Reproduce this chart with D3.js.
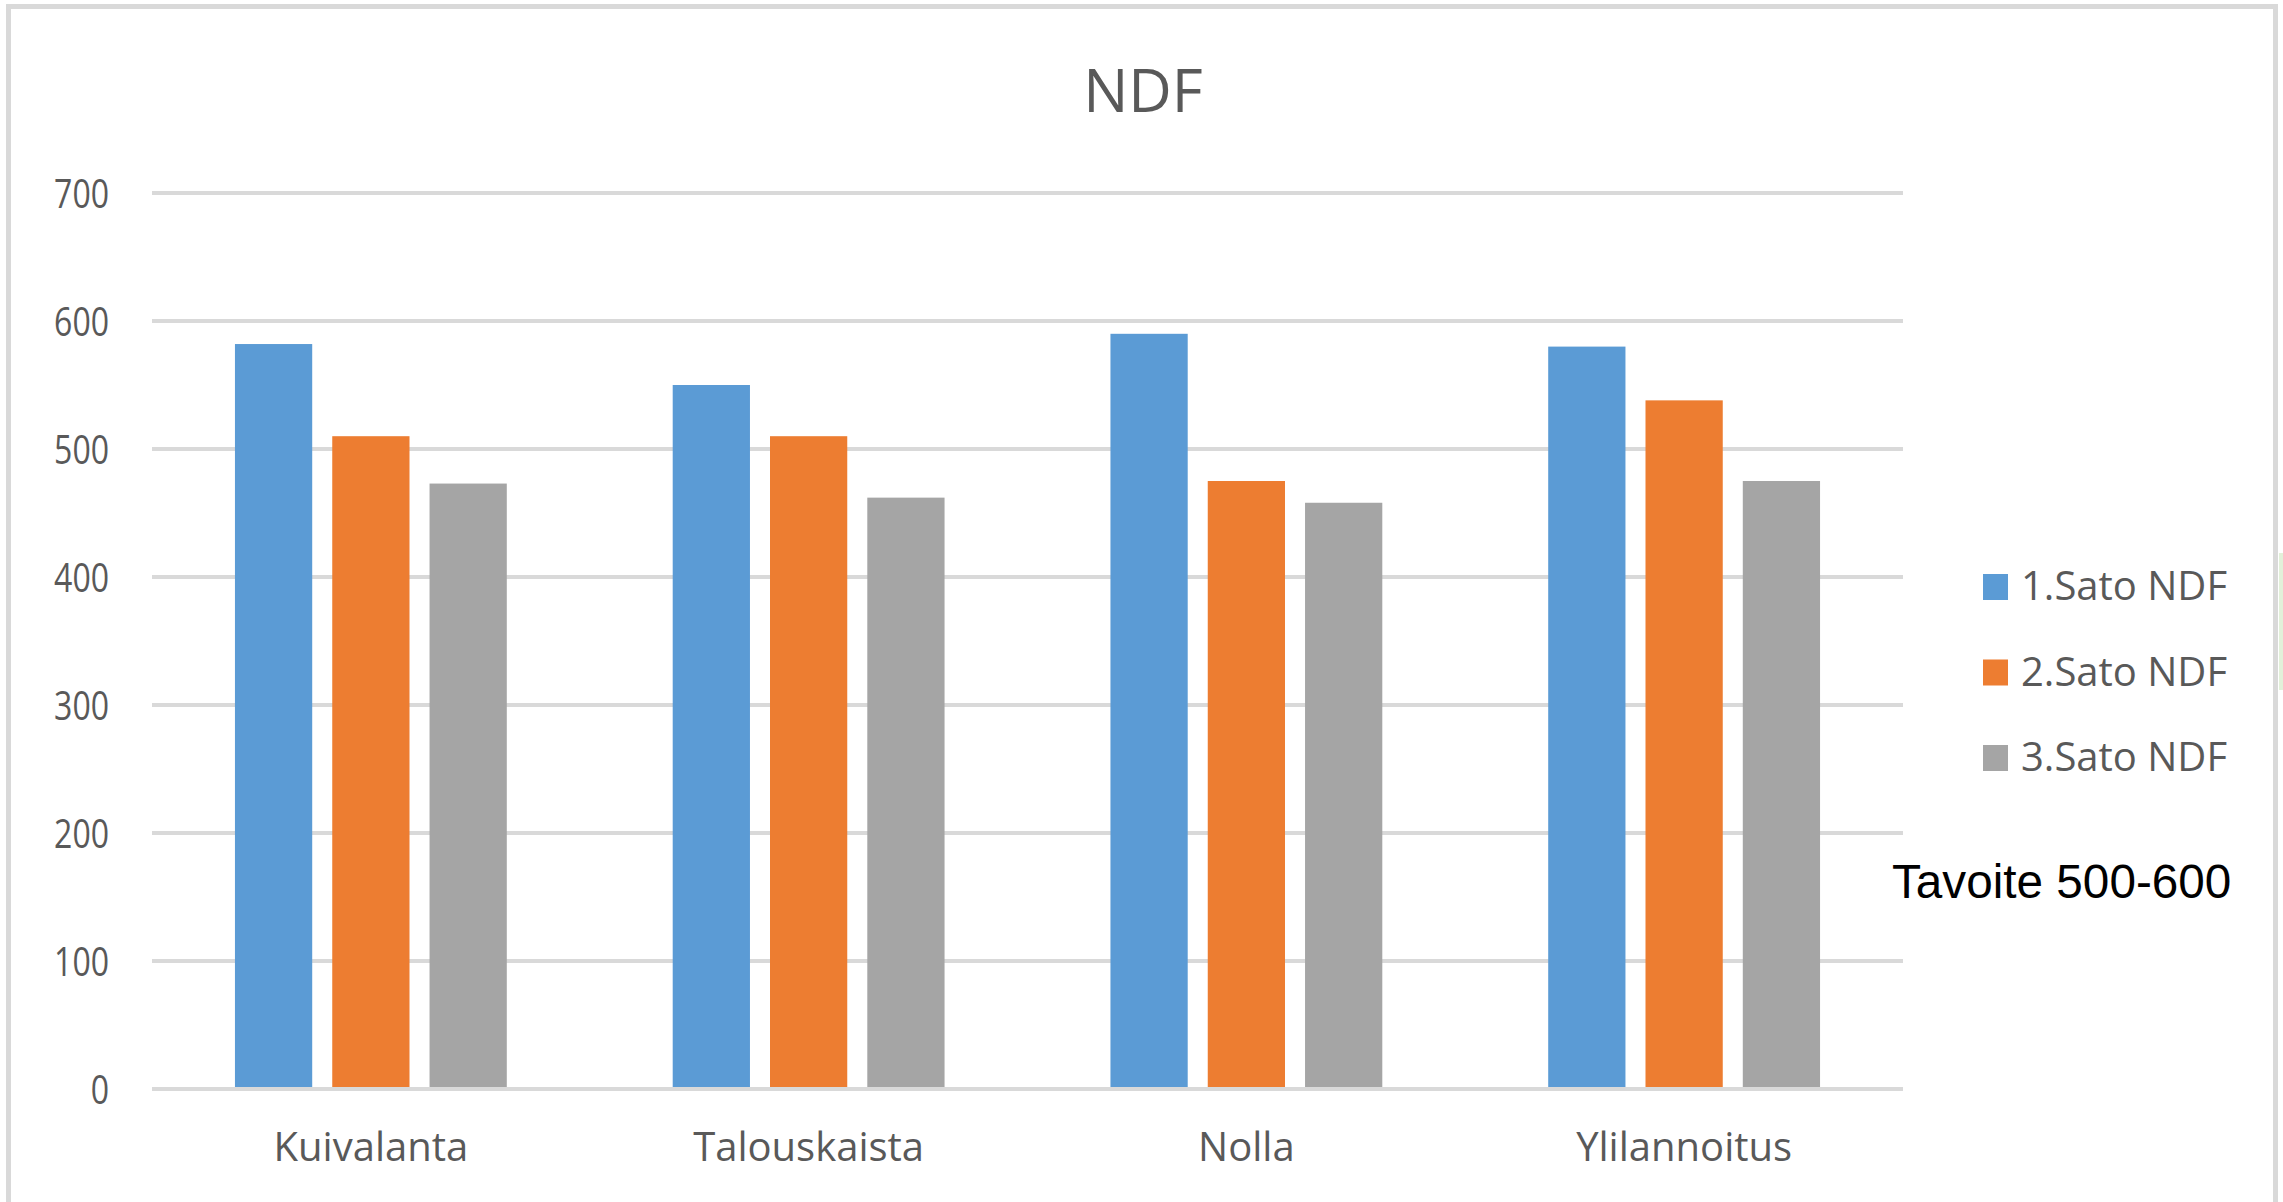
<!DOCTYPE html>
<html>
<head>
<meta charset="utf-8">
<script src="https://cdn.jsdelivr.net/npm/d3@7"></script>
<style>
  html, body { margin: 0; padding: 0; background: #ffffff; }
  svg { display: block; }
</style>
</head>
<body>
<svg id="chart" width="2283" height="1202"></svg>
<script>
const categories = ["Kuivalanta", "Talouskaista", "Nolla", "Ylilannoitus"];
const seriesNames = ["1.Sato NDF", "2.Sato NDF", "3.Sato NDF"];
const sato1 = [582, 550, 590, 580];
const sato2 = [510, 510, 475, 538];
const sato3 = [473, 462, 458, 475];
const yTicks = [0, 100, 200, 300, 400, 500, 600, 700];
const seriesColors = ["#5b9bd5", "#ed7d31", "#a5a5a5"];
const titleText = "NDF";
const noteText = "Tavoite 500-600";

const seriesValues = [sato1, sato2, sato3];
const W = 2283, H = 1202;
const svg = d3.select("#chart");
const font = "'Open Sans', 'Noto Sans', sans-serif";
const textColor = "#595959";

// frame
svg.append("path")
  .attr("d", `M8.5,1210 L8.5,6.5 L2275.5,6.5 L2275.5,1210`)
  .attr("fill", "none").attr("stroke", "#d9d9d9").attr("stroke-width", 5);
svg.append("rect").attr("x", 2279).attr("y", 553).attr("width", 4).attr("height", 137)
  .attr("fill", "#e2f0d9");

const plot = { left: 152, right: 1903, top: 193, bottom: 1089 };

const y = d3.scaleLinear().domain([0, 700]).range([plot.bottom, plot.top]);
const x0 = d3.scaleBand().domain(categories).range([plot.left, plot.right])
  .paddingInner(0.379).paddingOuter(0.1895);
const x1 = d3.scaleBand().domain(seriesNames).range([0, x0.bandwidth()])
  .paddingInner(0.206).paddingOuter(0);

// gridlines
svg.append("g").selectAll("line").data(yTicks).join("line")
  .attr("x1", plot.left).attr("x2", plot.right)
  .attr("y1", d => y(d)).attr("y2", d => y(d))
  .attr("stroke", "#d9d9d9").attr("stroke-width", 4);

// y axis labels
const yAxis = d3.axisLeft(y).tickValues(yTicks).tickSize(0).tickPadding(0);
const gy = svg.append("g").attr("transform", `translate(109,0)`).call(yAxis);
gy.select(".domain").remove();
gy.selectAll("text")
  .attr("font-family", font).attr("font-size", 40).attr("fill", textColor)
  .attr("x", 0).attr("dy", "0.35em")
  .attr("transform", "scale(0.8,1)");

// bars
const data = categories.map((c, i) => ({ cat: c, vals: seriesNames.map((s, j) => ({ s, j, v: seriesValues[j][i] })) }));
svg.append("g").selectAll("g").data(data).join("g")
  .attr("transform", d => `translate(${x0(d.cat)},0)`)
  .selectAll("rect").data(d => d.vals).join("rect")
  .attr("x", d => x1(d.s))
  .attr("width", x1.bandwidth())
  .attr("y", d => y(d.v))
  .attr("height", d => y(0) - y(d.v) - 2)
  .attr("fill", d => seriesColors[d.j]);

// x axis labels
const xAxis = d3.axisBottom(x0).tickSize(0).tickPadding(0);
const gx = svg.append("g").attr("transform", `translate(0,1161)`).call(xAxis);
gx.select(".domain").remove();
gx.selectAll("text")
  .attr("font-family", font).attr("font-size", 40).attr("fill", textColor)
  .attr("dy", 0);

// title
svg.append("text").attr("x", 1143).attr("y", 112).attr("text-anchor", "middle")
  .attr("font-family", font).attr("font-size", 60).attr("fill", textColor)
  .text(titleText);

// legend
const lg = svg.append("g");
seriesNames.forEach((s, j) => {
  const by = 600 + j * 85.5;
  lg.append("rect").attr("x", 1983).attr("y", by - 26).attr("width", 25).attr("height", 26)
    .attr("fill", seriesColors[j]);
  lg.append("text").attr("x", 2021).attr("y", by)
    .attr("font-family", font).attr("font-size", 40).attr("fill", textColor).text(s);
});

// note
svg.append("text").attr("x", 1892).attr("y", 898)
  .attr("font-family", "'Liberation Sans', Arial, sans-serif").attr("font-size", 47.7)
  .attr("fill", "#000000").text(noteText);
</script>
</body>
</html>
